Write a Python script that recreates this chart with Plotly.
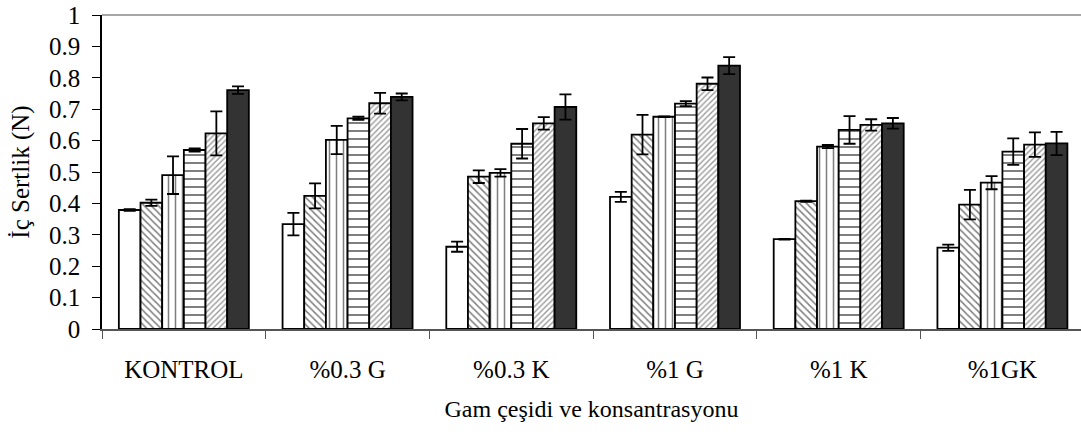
import plotly.graph_objects as go

# Gum type / concentration groups
categories = ["KONTROL", "%0.3 G", "%0.3 K", "%1 G", "%1 K", "%1GK"]

# Internal hardness (N) for the six storage points, with standard deviations
s1 = [0.379, 0.334, 0.262, 0.421, 0.286, 0.259]
s1_err = [0.003, 0.036, 0.016, 0.016, 0.001, 0.010]
s2 = [0.402, 0.424, 0.485, 0.619, 0.407, 0.396]
s2_err = [0.010, 0.040, 0.020, 0.063, 0.002, 0.047]
s3 = [0.490, 0.602, 0.497, 0.676, 0.581, 0.466]
s3_err = [0.060, 0.045, 0.012, 0.001, 0.005, 0.021]
s4 = [0.570, 0.671, 0.590, 0.718, 0.634, 0.565]
s4_err = [0.005, 0.005, 0.047, 0.008, 0.044, 0.042]
s5 = [0.623, 0.719, 0.655, 0.781, 0.650, 0.587]
s5_err = [0.070, 0.033, 0.020, 0.020, 0.018, 0.039]
s6 = [0.761, 0.739, 0.707, 0.839, 0.655, 0.591]
s6_err = [0.012, 0.011, 0.040, 0.027, 0.017, 0.037]

y_ticks = [0, 0.1, 0.2, 0.3, 0.4, 0.5, 0.6, 0.7, 0.8, 0.9, 1]
y_tick_labels = ["0", "0.1", "0.2", "0.3", "0.4", "0.5", "0.6", "0.7", "0.8", "0.9", "1"]

series = [
    (s1, s1_err, dict(color="white")),
    (s2, s2_err, dict(color="white", pattern=dict(shape="\\", size=5, solidity=0.3,
                                                   fgcolor="black", bgcolor="white"))),
    (s3, s3_err, dict(color="white", pattern=dict(shape="|", size=7, solidity=0.22,
                                                   fgcolor="black", bgcolor="white"))),
    (s4, s4_err, dict(color="white", pattern=dict(shape="-", size=8, solidity=0.25,
                                                   fgcolor="black", bgcolor="white"))),
    (s5, s5_err, dict(color="white", pattern=dict(shape="/", size=4, solidity=0.35,
                                                   fgcolor="#333333", bgcolor="white"))),
    (s6, s6_err, dict(color="#333333")),
]

fig = go.Figure()
for vals, errs, marker in series:
    marker = dict(marker)
    marker["line"] = dict(color="black", width=1.8)
    fig.add_trace(go.Bar(
        x=categories, y=vals, marker=marker,
        error_y=dict(type="data", array=errs, visible=True,
                     color="black", thickness=1.8, width=6),
        showlegend=False,
    ))

serif = "Liberation Serif, Times New Roman, Times, serif"
fig.update_layout(
    width=1081, height=434,
    margin=dict(l=102, r=0, t=15, b=105),
    paper_bgcolor="white", plot_bgcolor="white",
    barmode="group", bargap=0.206, bargroupgap=0,
    font=dict(family=serif, color="black"),
    xaxis=dict(
        range=[-0.5, 5.48], showline=True, linecolor="#555555", linewidth=2,
        ticks="outside", tickson="boundaries", ticklen=8, tickcolor="#555555",
        ticklabelstandoff=17,
        tickfont=dict(family=serif, size=25, color="black"),
        title=dict(text="Gam çeşidi ve konsantrasyonu",
                   font=dict(family=serif, size=24, color="black"), standoff=18),
        showgrid=False, zeroline=False,
    ),
    yaxis=dict(
        range=[0, 1], tickvals=y_ticks, ticktext=y_tick_labels,
        showline=True, linecolor="black", linewidth=1.5,
        ticks="outside", ticklen=8, tickcolor="black",
        ticklabelstandoff=7,
        tickfont=dict(family=serif, size=25, color="black"),
        title=dict(text="İç Sertlik (N)",
                   font=dict(family=serif, size=25, color="black"), standoff=12),
        showgrid=False, zeroline=False,
    ),
    shapes=[dict(type="line", xref="paper", yref="paper", x0=0, x1=1, y0=1, y1=1,
                 line=dict(color="#888888", width=1.5))],
)

fig.write_html("out.html")
